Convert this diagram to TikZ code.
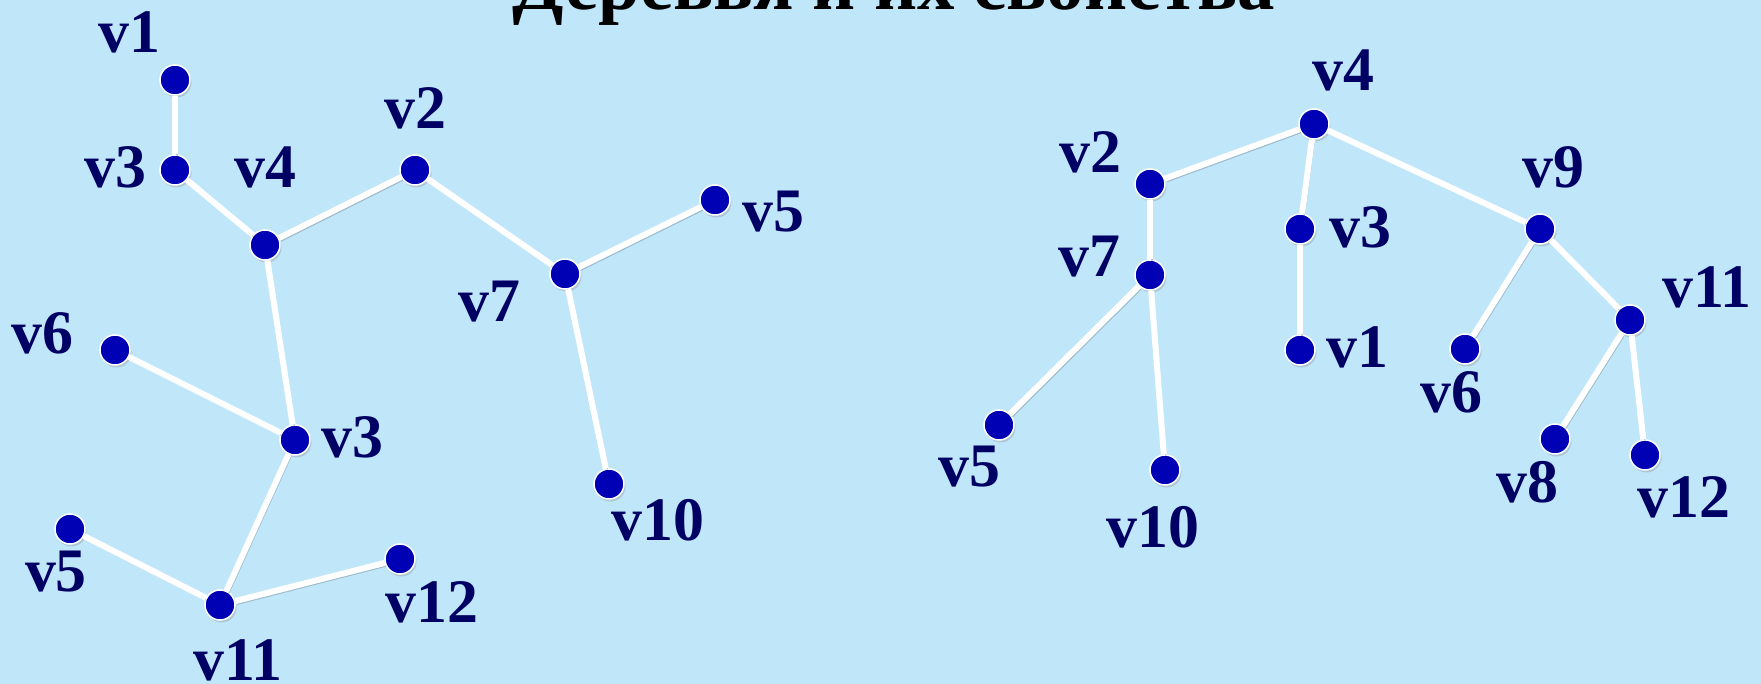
\documentclass[tikz,border=0pt]{standalone}
\usepackage{fontspec}
\setmainfont{Liberation Serif}
\usetikzlibrary{positioning,shadows}

\definecolor{bgblue}{RGB}{192,230,250}
\definecolor{vtxblue}{RGB}{0,0,180}
\definecolor{lblnavy}{RGB}{0,0,100}

\begin{document}
\begin{tikzpicture}[
    x=0.1mm, y=-0.1mm,
    vtx/.style={circle, fill=vtxblue, draw=white, line width=0.15mm, minimum size=3mm, inner sep=0pt,
                drop shadow={opacity=0.3, shadow xshift=0.15mm, shadow yshift=-0.25mm}},
    lbl/.style={font=\fontsize{17.6}{20}\selectfont\bfseries, text=lblnavy, inner sep=0pt},
    ttl/.style={font=\fontsize{21.3}{24}\selectfont\bfseries, text=black, inner sep=0pt, anchor=base},
    edge/.style={draw=white, line width=0.6mm,
                 preaction={draw=black, opacity=0.18, transform canvas={xshift=0.2mm, yshift=-0.3mm}}}
]
\fill[bgblue] (0,0) rectangle (1761,684);
\useasboundingbox (0,0) rectangle (1761,684);
\clip (0,0) rectangle (1761,684);

\node[ttl] (title) at (894,10) {Деревья и их свойства};

% left tree
\node[vtx] (lv1)  at (175,80)  {};
\node[vtx] (lv3a) at (175,170) {};
\node[vtx] (lv4)  at (265,245) {};
\node[vtx] (lv2)  at (415,170) {};
\node[vtx] (lv7)  at (565,274) {};
\node[vtx] (lv5a) at (715,200) {};
\node[vtx] (lv10) at (609,484) {};
\node[vtx] (lv6)  at (115,350) {};
\node[vtx] (lv3b) at (295,440) {};
\node[vtx] (lv5b) at (70,529)  {};
\node[vtx] (lv11) at (220,605) {};
\node[vtx] (lv12) at (400,559) {};

\node[lbl] at (129,32)  {v1};
\node[lbl] at (115,167) {v3};
\node[lbl] at (265,167) {v4};
\node[lbl] at (415,108) {v2};
\node[lbl] at (489,302) {v7};
\node[lbl] at (773,212) {v5};
\node[lbl] at (658,520) {v10};
\node[lbl] at (42,333)  {v6};
\node[lbl] at (352,437) {v3};
\node[lbl] at (56,572)  {v5};
\node[lbl] at (238,660) {v11};
\node[lbl] at (432,602) {v12};

\draw[edge] (lv1) -- (lv3a);
\draw[edge] (lv3a) -- (lv4);
\draw[edge] (lv4) -- (lv2);
\draw[edge] (lv2) -- (lv7);
\draw[edge] (lv7) -- (lv5a);
\draw[edge] (lv7) -- (lv10);
\draw[edge] (lv4) -- (lv3b);
\draw[edge] (lv6) -- (lv3b);
\draw[edge] (lv3b) -- (lv11);
\draw[edge] (lv5b) -- (lv11);
\draw[edge] (lv11) -- (lv12);

% right tree
\node[vtx] (rv4)  at (1314,124) {};
\node[vtx] (rv2)  at (1150,184) {};
\node[vtx] (rv7)  at (1150,275) {};
\node[vtx] (rv5)  at (999,425)  {};
\node[vtx] (rv10) at (1165,470) {};
\node[vtx] (rv3)  at (1300,229) {};
\node[vtx] (rv1)  at (1300,350) {};
\node[vtx] (rv9)  at (1540,229) {};
\node[vtx] (rv6)  at (1465,349) {};
\node[vtx] (rv11) at (1630,320) {};
\node[vtx] (rv8)  at (1555,439) {};
\node[vtx] (rv12) at (1645,455) {};

\node[lbl] at (1343,70)  {v4};
\node[lbl] at (1090,152) {v2};
\node[lbl] at (1089,257) {v7};
\node[lbl] at (969,467)  {v5};
\node[lbl] at (1153,527) {v10};
\node[lbl] at (1360,227) {v3};
\node[lbl] at (1357,347) {v1};
\node[lbl] at (1553,167) {v9};
\node[lbl] at (1451,392) {v6};
\node[lbl] at (1707,287) {v11};
\node[lbl] at (1527,482) {v8};
\node[lbl] at (1684,497) {v12};

\draw[edge] (rv4) -- (rv2);
\draw[edge] (rv2) -- (rv7);
\draw[edge] (rv7) -- (rv5);
\draw[edge] (rv7) -- (rv10);
\draw[edge] (rv4) -- (rv3);
\draw[edge] (rv3) -- (rv1);
\draw[edge] (rv4) -- (rv9);
\draw[edge] (rv9) -- (rv6);
\draw[edge] (rv9) -- (rv11);
\draw[edge] (rv11) -- (rv8);
\draw[edge] (rv11) -- (rv12);
\end{tikzpicture}
\end{document}
